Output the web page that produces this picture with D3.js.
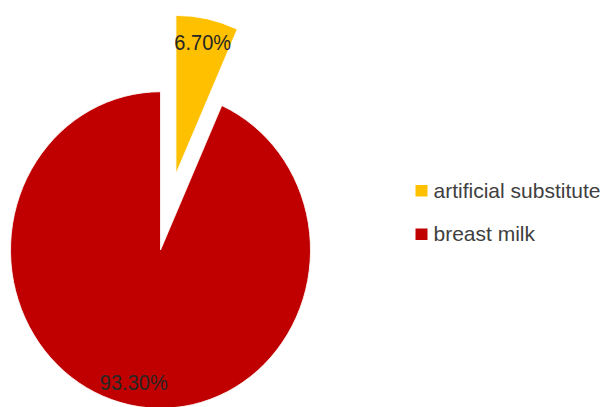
<!DOCTYPE html>
<html>
<head>
<meta charset="utf-8">
<script src="https://cdn.jsdelivr.net/npm/d3@7"></script>
<style>
  body { margin: 0; background: #fff; }
  svg { display: block; font-family: "Liberation Sans", Arial, sans-serif; }
</style>
</head>
<body>
<div id="vis"></div>
<script>
/* Data */
var categories = ["artificial substitute", "breast milk"];
var values = [6.7, 93.3];
var labels = ["6.70%", "93.30%"];
var colors = ["#FFC000", "#C00000"];
var explode = [74, 0];

/* Set up */
var width = 604, height = 407,
    cx = 160.5, cy = 250,
    radius = 150,
    stretch = 1.055; // reference pie is a little taller than wide

var color = d3.scaleOrdinal().domain(categories).range(colors);

var svg = d3.select('#vis').append('svg')
    .attr('width', width).attr('height', height);

var pie = d3.pie().sort(null).value(function (d) { return d.value; });
var data = pie(categories.map(function (c, i) {
    return { name: c, value: values[i], label: labels[i], explode: explode[i] };
}));

var arc = d3.arc().innerRadius(0).outerRadius(radius);
var labelArc = d3.arc().innerRadius(128).outerRadius(128);

function offset(d) {
    var a = (d.startAngle + d.endAngle) / 2;
    return [Math.sin(a) * d.data.explode, -Math.cos(a) * d.data.explode];
}

/* slices */
var chart = svg.append('g')
    .attr('transform', 'translate(' + cx + ',' + cy + ') scale(1,' + stretch + ')');

chart.selectAll('path')
    .data(data)
    .enter().append('path')
    .attr('transform', function (d) {
        var o = offset(d);
        return 'translate(' + o[0] + ',' + o[1] + ')';
    })
    .attr('d', arc)
    .attr('fill', function (d) { return color(d.data.name); })
    .attr('stroke', '#fff')
    .attr('stroke-width', 0.8);

/* data labels (outside the stretched group so text is not distorted twice) */
svg.append('g').selectAll('text')
    .data(data)
    .enter().append('text')
    .attr('transform', function (d) {
        var o = offset(d), c = labelArc.centroid(d);
        var x = cx + o[0] + c[0], y = cy + (o[1] + c[1]) * stretch;
        return 'translate(' + x + ',' + y + ') scale(1,1.1)';
    })
    .attr('text-anchor', 'middle')
    .attr('dy', '0.36em')
    .attr('font-size', 20)
    .attr('fill', '#262626')
    .text(function (d) { return d.data.label; });

/* legend */
var legend = svg.append('g').attr('transform', 'translate(415.5,185)');
var item = legend.selectAll('g')
    .data(categories)
    .enter().append('g')
    .attr('transform', function (d, i) { return 'translate(0,' + (i * 43.5) + ')'; });

item.append('rect')
    .attr('width', 12).attr('height', 11.5)
    .attr('fill', function (d) { return color(d); });

item.append('text')
    .attr('x', 18).attr('y', 12.5)
    .attr('font-size', 21)
    .attr('fill', '#404040')
    .text(function (d) { return d; });
</script>
</body>
</html>
